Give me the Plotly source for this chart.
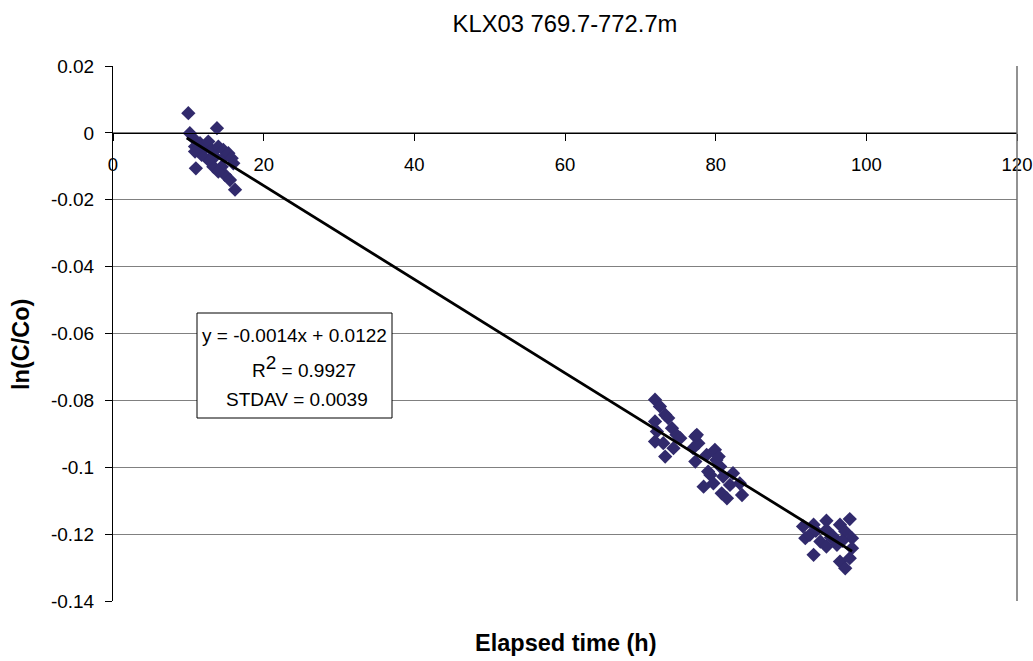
import plotly.graph_objects as go

# ---- data ----
time_h = [10.0, 10.2, 13.8, 11.0, 16.2, 10.66, 10.89, 11.55, 12.21, 12.65, 13.1, 13.54, 13.98,
          14.65, 14.87, 15.31, 15.75, 14.43, 14.87, 15.53, 13.32, 12.65, 11.77, 10.89, 15.97, 13.98,
          71.95, 72.6, 73.3, 73.7, 71.95, 72.2, 71.95, 73.05, 73.3, 74.2, 74.8, 75.3, 74.4, 77.3,
          77.7, 77.0, 77.3, 78.8, 80.1, 80.6, 79.3, 77.5, 79.9, 80.4, 79.0, 78.4, 79.7, 80.8, 81.5,
          82.3, 83.2, 83.5, 81.9, 81.0,
          94.7, 97.8, 91.6, 93.0, 91.9, 93.0, 93.9, 94.7, 95.6, 96.5, 97.2, 98.1, 96.1, 94.7, 96.5,
          97.2, 97.8, 98.1, 92.5, 95.3, 96.8, 93.3]
ln_c_co = [0.0059, -0.0001, 0.0014, -0.0106, -0.017, -0.0016, -0.0041, -0.0031, -0.0046, -0.0026,
           -0.0051, -0.0071, -0.0041, -0.0051, -0.0071, -0.0061, -0.0076, -0.0101, -0.0126, -0.0141,
           -0.0101, -0.0081, -0.0066, -0.0056, -0.0091, -0.0116,
           -0.0798, -0.0818, -0.0843, -0.0853, -0.0863, -0.0893, -0.0923, -0.0928, -0.0968, -0.0883,
           -0.0903, -0.0913, -0.0943, -0.0908, -0.0928, -0.0943, -0.0983, -0.0963, -0.0978, -0.0998,
           -0.1023, -0.0903, -0.0948, -0.0968, -0.1013, -0.1058, -0.1048, -0.1078, -0.1093, -0.1018,
           -0.1048, -0.1083, -0.1053, -0.1028,
           -0.116, -0.1155, -0.1177, -0.1172, -0.1212, -0.1262, -0.1222, -0.1187, -0.1207, -0.1172,
           -0.1192, -0.1212, -0.1232, -0.1237, -0.1282, -0.1302, -0.1272, -0.1242, -0.1202, -0.121,
           -0.122, -0.119]

fit_slope = -0.0014
fit_intercept = 0.0122
fit_x = [9.8, 98.1]
fit_y = [fit_slope * x + fit_intercept for x in fit_x]

x_tickvals = [0, 20, 40, 60, 80, 100, 120]
x_ticktext = ["0", "20", "40", "60", "80", "100", "120"]
y_tickvals = [0.02, 0, -0.02, -0.04, -0.06, -0.08, -0.1, -0.12, -0.14]
y_ticktext = ["0.02", "0", "-0.02", "-0.04", "-0.06", "-0.08", "-0.1", "-0.12", "-0.14"]

title_text = "KLX03 769.7-772.7m"
x_title = "Elapsed time (h)"
y_title = "ln(C/Co)"
eq_lines = ["y = -0.0014x + 0.0122",
            "R<sup><span style='font-size:19px'>2</span></sup> = 0.9927",
            "STDAV = 0.0039"]

FONT = "Liberation Sans, Arial, sans-serif"

W, H = 1033, 661
PL, PT, PR, PB = 113, 66, 1017, 601  # plot area in page pixels
PW, PH = PR - PL, PB - PT

fig = go.Figure()
fig.add_trace(go.Scatter(
    x=time_h, y=ln_c_co, mode="markers",
    marker=dict(symbol="diamond", size=11, color="#312a6c", line=dict(width=0)),
    showlegend=False, hoverinfo="skip"))
fig.add_trace(go.Scatter(
    x=fit_x, y=fit_y, mode="lines",
    line=dict(color="black", width=2.8),
    showlegend=False, hoverinfo="skip"))

fig.update_layout(
    width=W, height=H,
    margin=dict(l=PL, r=W - PR, t=PT, b=H - PB, autoexpand=False),
    paper_bgcolor="white", plot_bgcolor="white",
    font=dict(family=FONT, color="black", size=19),
    title=dict(text=title_text, x=0.5, xref="paper", xanchor="center",
               y=1 - 24 / H, yref="container", yanchor="middle",
               font=dict(family=FONT, size=23.8, color="black")),
    xaxis=dict(range=[0, 120], tickvals=x_tickvals, ticktext=x_ticktext,
               showgrid=False, zeroline=False, showline=True, linecolor="black", linewidth=1,
               ticks="outside", ticklen=7, tickcolor="black",
               anchor="free", position=0.875, ticklabelstandoff=8,
               tickfont=dict(family=FONT, size=18.5)),
    yaxis=dict(range=[-0.14, 0.02], tickvals=y_tickvals, ticktext=y_ticktext,
               showgrid=True, gridcolor="#808080", gridwidth=1,
               zeroline=False, showline=True, linecolor="black", linewidth=1,
               ticks="outside", ticklen=7, tickcolor="black", ticklabelstandoff=7,
               tickfont=dict(family=FONT, size=19)),
)

# right border of plot area (gray)
fig.add_shape(type="line", xref="paper", yref="paper", x0=1, x1=1, y0=0, y1=1,
              line=dict(color="#6e6e6e", width=1.5))

def px_x(p):
    return (p - PL) / PW

def px_y(p):
    return (PB - p) / PH

# equation box
fig.add_shape(type="rect", xref="paper", yref="paper",
              x0=px_x(197), x1=px_x(392), y0=px_y(418), y1=px_y(313),
              fillcolor="white", line=dict(color="black", width=1), layer="above")
eq_x_px = [294, 304, 297]
eq_y_px = [335, 366, 400]
for t, xp, yp in zip(eq_lines, eq_x_px, eq_y_px):
    fig.add_annotation(text=t, xref="paper", yref="paper",
                       x=px_x(xp), y=px_y(yp),
                       xanchor="center", yanchor="middle", showarrow=False,
                       font=dict(family=FONT, size=19, color="black"))

# axis titles
fig.add_annotation(text="<b>" + x_title + "</b>", xref="paper", yref="paper",
                   x=px_x(566), y=px_y(643), xanchor="center", yanchor="middle",
                   showarrow=False, font=dict(family=FONT, size=23.5, color="black"))
fig.add_annotation(text="<b>" + y_title + "</b>", xref="paper", yref="paper",
                   x=px_x(21), y=px_y(345), xanchor="center", yanchor="middle",
                   textangle=-90, showarrow=False, font=dict(family=FONT, size=23.5, color="black"))

fig.write_html("out.html", config={"displayModeBar": False},
               post_script="document.body.style.margin='0';document.body.style.overflow='hidden';")
